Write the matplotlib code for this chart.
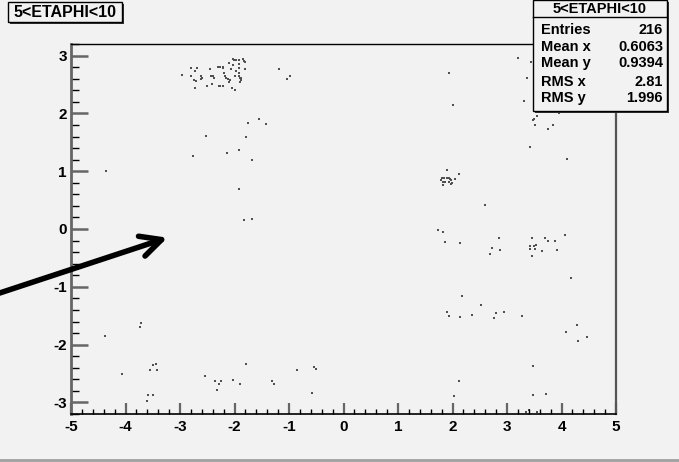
"""
Eta-phi occupancy scatter for hits with 5 < ETAPHI < 10, drawn in ROOT style.
"""

import numpy as np
import matplotlib.pyplot as plt
from matplotlib.patches import Rectangle
from matplotlib.ticker import MultipleLocator

TITLE = '5<ETAPHI<10'

# eta, phi of every hit
ETA = np.array([
    # cluster near eta -2.3, phi 2.7
    -2.97, -2.80, -2.72, -2.69, -2.79, -2.74, -2.71, -2.72, -2.61, -2.59,
    -2.61, -2.51, -2.45, -2.44, -2.39, -2.38, -2.42, -2.31, -2.27, -2.21,
    -2.21, -2.29, -2.27, -2.21, -2.19, -2.17, -2.12, -2.08, -2.11, -2.05,
    -1.99, -2.10, -2.07, -2.03, -2.01, -1.97, -2.03, -1.97, -1.99, -1.92,
    -1.91, -1.92, -1.91, -1.90, -1.88, -1.88, -1.89, -1.85, -1.83, -1.81,
    -1.81, -1.92, -2.16, -1.18, -0.99, -1.04,
    # upper left, scattered
    -1.55, -1.75, -1.43, -2.52, -1.79, -2.76, -2.13, -1.91, -1.68, -1.91,
    -4.36, -1.83, -1.67,
    # lower left
    -3.72, -3.73, -4.38, -4.07, -3.55, -3.49, -3.44, -3.43, -3.58, -3.50,
    -3.60, -2.54, -2.35, -2.25, -2.28, -2.33, -2.02, -1.90, -1.79, -1.31,
    -1.28, -0.85, -0.54, -0.50, -0.58,
    # upper right
    3.21, 3.44, 1.93, 3.36, 2.00, 3.31, 3.55, 3.50, 3.48, 3.51,
    3.76, 3.85, 3.95, 4.28, 3.43, 4.10,
    # cluster near eta 1.9, phi 0.85
    1.89, 2.12, 1.81, 1.85, 1.89, 1.94, 1.95, 1.79, 1.83, 1.86,
    1.97, 2.05, 1.94, 1.99, 1.97, 1.82,
    # lower right
    2.59, 1.73, 1.82, 1.86, 2.14, 2.86, 2.72, 2.68, 2.88, 3.45,
    3.42, 3.49, 3.54, 3.42, 3.52, 3.45, 3.64, 3.70, 3.76, 3.88,
    3.92, 4.06, 4.17, 2.18, 2.52, 1.89, 1.93, 2.14, 2.36, 2.79,
    2.77, 2.95, 3.27, 4.28, 4.08, 4.30, 4.46, 3.47, 2.12, 2.03,
    3.47, 3.72, 3.34, 3.41, 3.55, 4.00,
])

PHI = np.array([
    2.66, 2.78, 2.73, 2.78, 2.64, 2.58, 2.56, 2.44, 2.64, 2.61,
    2.59, 2.48, 2.77, 2.64, 2.64, 2.62, 2.51, 2.81, 2.81, 2.80,
    2.78, 2.48, 2.47, 2.47, 2.70, 2.65, 2.60, 2.58, 2.55, 2.44,
    2.40, 2.88, 2.77, 2.94, 2.92, 2.92, 2.83, 2.74, 2.65, 2.85,
    2.78, 2.70, 2.64, 2.61, 2.61, 2.58, 2.54, 2.94, 2.91, 2.89,
    2.76, 2.92, 2.62, 2.77, 2.64, 2.60,
    1.90, 1.83, 1.81, 1.61, 1.59, 1.27, 1.32, 1.36, 1.19, 0.70,
    1.00, 0.16, 0.17,
    -1.63, -1.69, -1.85, -2.51, -2.44, -2.35, -2.34, -2.44, -2.87, -2.87,
    -2.97, -2.54, -2.63, -2.63, -2.68, -2.79, -2.61, -2.68, -2.34, -2.63,
    -2.68, -2.44, -2.39, -2.43, -2.83,
    2.95, 2.89, 2.69, 2.61, 2.14, 2.21, 1.96, 1.91, 1.89, 1.80,
    1.73, 1.80, 2.00, 2.02, 1.41, 1.21,
    1.02, 0.95, 0.88, 0.88, 0.89, 0.88, 0.87, 0.84, 0.82, 0.82,
    0.84, 0.87, 0.81, 0.80, 0.78, 0.76,
    0.41, -0.02, -0.05, -0.22, -0.25, -0.15, -0.32, -0.44, -0.37, -0.15,
    -0.29, -0.30, -0.27, -0.34, -0.35, -0.47, -0.38, -0.15, -0.20, -0.20,
    -0.36, -0.10, -0.85, -1.16, -1.32, -1.44, -1.51, -1.53, -1.48, -1.46,
    -1.54, -1.43, -1.50, -1.66, -1.79, -1.94, -1.86, -2.37, -2.63, -2.88,
    -2.87, -2.85, -3.17, -3.13, -3.17, -3.10,
])

STAT_NAMES = ['Entries', 'Mean x', 'Mean y', 'RMS x', 'RMS y']
STAT_VALUES = ['216', '0.6063', '0.9394', '2.81', '1.996']

W, H = 679, 462
BG = '#f2f2f2'

plt.rcParams['font.family'] = ['Liberation Sans', 'DejaVu Sans']
plt.rcParams['font.weight'] = 'bold'
plt.rcParams['axes.unicode_minus'] = False

fig = plt.figure(figsize=(W / 100, H / 100), dpi=100, facecolor=BG)


def fx(px):
    return px / W


def fy(py):
    return 1 - py / H


ax = fig.add_axes([fx(71), fy(414), fx(616) - fx(71), fy(44) - fy(414)])
ax.set_facecolor(BG)
ax.scatter(ETA, PHI, s=0.9, marker='s', linewidths=0, color='#505050')

ax.set_xlim(-5, 5)
ax.set_ylim(-3.2, 3.2)
ax.xaxis.set_major_locator(MultipleLocator(1))
ax.xaxis.set_minor_locator(MultipleLocator(0.2))
ax.yaxis.set_major_locator(MultipleLocator(1))
ax.yaxis.set_minor_locator(MultipleLocator(0.2))

ax.tick_params(axis='x', which='major', direction='in', length=8, width=1.6,
               color='#666666', labelsize=11, pad=4)
ax.tick_params(axis='x', which='minor', direction='in', length=3.8, width=1,
               color='black')
ax.tick_params(axis='y', which='major', direction='in', length=12, width=1.8,
               color='#666666', labelsize=11, pad=3)
ax.tick_params(axis='y', which='minor', direction='in', length=6, width=1,
               color='black')
for lab in ax.get_xticklabels() + ax.get_yticklabels():
    lab.set_fontweight('bold')

ax.spines['left'].set_color('#666666')
ax.spines['left'].set_linewidth(2)
ax.spines['right'].set_color('#555555')
ax.spines['right'].set_linewidth(1.6)
ax.spines['top'].set_linewidth(1)
ax.spines['bottom'].set_linewidth(1.2)

# pointer arrow coming in from the left edge
ax.annotate('', xy=(-3.23, -0.15), xytext=(-6.35, -1.12),
            xycoords='data', textcoords='data', annotation_clip=False,
            arrowprops=dict(arrowstyle='->,head_length=1.5,head_width=0.75',
                            lw=4, color='black', shrinkA=0, shrinkB=0))


def box(x0, y0, x1, y1, shadow=2):
    # framed pave with a dark drop shadow, pixel coords from the top-left
    fig.patches.append(Rectangle((fx(x0 + shadow), fy(y1 + shadow)),
                                 fx(x1 - x0), fy(y0) - fy(y1),
                                 transform=fig.transFigure, facecolor='#333333',
                                 edgecolor='none', zorder=5))
    fig.patches.append(Rectangle((fx(x0), fy(y1)), fx(x1 - x0), fy(y0) - fy(y1),
                                 transform=fig.transFigure, facecolor=BG,
                                 edgecolor='black', lw=1, zorder=6))


# title pave
box(8, 2, 122, 22)
fig.text(fx(65), fy(12.5), TITLE, ha='center', va='center', fontsize=11.5,
         fontweight='bold', zorder=7)

# statistics pave
box(533, 0, 667, 111, shadow=2)
fig.add_artist(plt.Line2D([fx(533), fx(667)], [fy(17), fy(17)],
                          transform=fig.transFigure, color='black', lw=1,
                          zorder=7))
fig.text(fx(600), fy(9), TITLE, ha='center', va='center', fontsize=10.5,
         fontweight='bold', zorder=7)
rows_y = [30, 47, 63, 81.5, 98]
for name, val, ry in zip(STAT_NAMES, STAT_VALUES, rows_y):
    fig.text(fx(541), fy(ry), name, ha='left', va='center', fontsize=10.5,
             fontweight='bold', zorder=7)
    fig.text(fx(663), fy(ry), val, ha='right', va='center', fontsize=10.5,
             fontweight='bold', zorder=7)

# canvas bottom border
fig.add_artist(plt.Line2D([0, 1], [fy(460), fy(460)], transform=fig.transFigure,
                          color='#a0a0a0', lw=2))

plt.savefig('out.png', dpi=100, facecolor=BG)
